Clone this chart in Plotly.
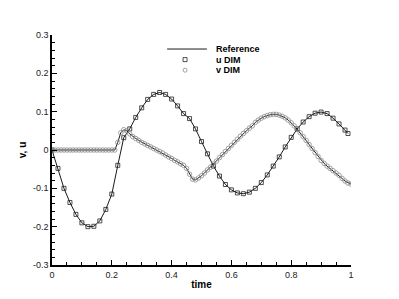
import plotly.graph_objects as go

# ---- data ----
time_u = [0.00, 0.02, 0.04, 0.06, 0.08, 0.10, 0.12, 0.14, 0.16, 0.18,
          0.20, 0.22, 0.24, 0.26, 0.28, 0.30, 0.32, 0.34, 0.36, 0.38,
          0.40, 0.42, 0.44, 0.46, 0.48, 0.50, 0.52, 0.54, 0.56, 0.58,
          0.60, 0.62, 0.64, 0.66, 0.68, 0.70, 0.72, 0.74, 0.76, 0.78,
          0.80, 0.82, 0.84, 0.86, 0.88, 0.90, 0.92, 0.94, 0.96, 0.98, 0.99]
u_dim = [0.000, -0.048, -0.100, -0.137, -0.168, -0.190, -0.200, -0.199, -0.185, -0.155,
         -0.115, -0.040, 0.032, 0.055, 0.085, 0.110, 0.132, 0.145, 0.150, 0.145,
         0.133, 0.115, 0.095, 0.082, 0.055, 0.022, -0.010, -0.042, -0.068, -0.090,
         -0.104, -0.112, -0.114, -0.110, -0.100, -0.085, -0.065, -0.042, -0.018, 0.008,
         0.033, 0.055, 0.073, 0.087, 0.096, 0.099, 0.095, 0.083, 0.068, 0.052, 0.043]

time_v = [0.00, 0.01, 0.02, 0.03, 0.04, 0.05, 0.06, 0.07, 0.08, 0.09,
          0.10, 0.11, 0.12, 0.13, 0.14, 0.15, 0.16, 0.17, 0.18, 0.19,
          0.20, 0.21, 0.22, 0.23, 0.24, 0.25, 0.26, 0.27, 0.28, 0.29,
          0.30, 0.31, 0.32, 0.33, 0.34, 0.35, 0.36, 0.37, 0.38, 0.39,
          0.40, 0.41, 0.42, 0.43, 0.44, 0.45, 0.46, 0.47, 0.48, 0.49,
          0.50, 0.51, 0.52, 0.53, 0.54, 0.55, 0.56, 0.57, 0.58, 0.59,
          0.60, 0.61, 0.62, 0.63, 0.64, 0.65, 0.66, 0.67, 0.68, 0.69,
          0.70, 0.71, 0.72, 0.73, 0.74, 0.75, 0.76, 0.77, 0.78, 0.79,
          0.80, 0.81, 0.82, 0.83, 0.84, 0.85, 0.86, 0.87, 0.88, 0.89,
          0.90, 0.91, 0.92, 0.93, 0.94, 0.95, 0.96, 0.97, 0.98, 0.99, 1.00]
v_dim = [0.000, 0.000, 0.000, 0.000, 0.000, 0.000, 0.000, 0.000, 0.000, 0.000,
         0.000, 0.000, 0.000, 0.000, 0.000, 0.000, 0.000, 0.000, 0.000, 0.000,
         0.000, 0.000, 0.020, 0.045, 0.053, 0.050, 0.042, 0.035, 0.030, 0.025,
         0.020, 0.016, 0.012, 0.008, 0.004, 0.000, -0.004, -0.008, -0.013, -0.018,
         -0.022, -0.027, -0.031, -0.036, -0.040, -0.048, -0.063, -0.076, -0.078, -0.073,
         -0.067, -0.060, -0.052, -0.045, -0.037, -0.029, -0.020, -0.012, -0.004, 0.004,
         0.012, 0.020, 0.028, 0.036, 0.043, 0.050, 0.057, 0.063, 0.072, 0.078,
         0.083, 0.087, 0.090, 0.092, 0.093, 0.093, 0.091, 0.088, 0.084, 0.078,
         0.071, 0.063, 0.054, 0.045, 0.035, 0.025, 0.014, 0.004, -0.007, -0.017,
         -0.027, -0.035, -0.042, -0.048, -0.054, -0.060, -0.066, -0.074, -0.081, -0.086, -0.089]

x_ticks = [0, 0.2, 0.4, 0.6, 0.8, 1.0]
x_tick_labels = ["0", "0.2", "0.4", "0.6", "0.8", "1"]
y_ticks = [-0.3, -0.2, -0.1, 0, 0.1, 0.2, 0.3]
y_tick_labels = ["-0.3", "-0.2", "-0.1", "0", "0.1", "0.2", "0.3"]
legend_labels = ["Reference", "u DIM", "v DIM"]

FONT = "Liberation Sans, Arial, sans-serif"
U_COLOR = "#222222"
V_COLOR = "#8a8a8a"

fig = go.Figure()
fig.add_trace(go.Scatter(x=time_u, y=u_dim, mode="lines", name=legend_labels[0],
                         line=dict(color="black", width=0.9)))
fig.add_trace(go.Scatter(x=time_v, y=v_dim, mode="lines", name=legend_labels[0],
                         line=dict(color="black", width=0.9)))
fig.add_trace(go.Scatter(x=time_u, y=u_dim, mode="markers", name=legend_labels[1],
                         marker=dict(symbol="square-open", size=4, color=U_COLOR,
                                     line=dict(width=0.8))))
fig.add_trace(go.Scatter(x=time_v, y=v_dim, mode="markers", name=legend_labels[2],
                         marker=dict(symbol="circle-open", size=4.5, color=V_COLOR,
                                     line=dict(width=0.8))))

axis_common = dict(showline=True, linecolor="black", linewidth=1.5, mirror=False,
                   showgrid=False, zeroline=False, ticks="inside", ticklen=5,
                   tickwidth=1, tickcolor="black", automargin=False,
                   tickfont=dict(family=FONT, size=9, color="#222222"))

fig.update_xaxes(range=[0, 1], tickvals=x_ticks, ticktext=x_tick_labels,
                 minor=dict(dtick=0.05, ticks="inside", ticklen=3, tickcolor="black"),
                 title=dict(text="<b>time</b>", font=dict(family=FONT, size=10, color="black"),
                            standoff=2),
                 **axis_common)
fig.update_yaxes(range=[-0.3, 0.3], tickvals=y_ticks, ticktext=y_tick_labels,
                 minor=dict(dtick=0.02, ticks="inside", ticklen=3, tickcolor="black"),
                 title=dict(text="<b>v, u</b>", font=dict(family=FONT, size=10, color="black"),
                            standoff=4),
                 **axis_common)

# ---- hand-built legend (Tecplot style, tight rows) ----
leg_x_line0, leg_x_line1, leg_x_sym, leg_x_text = 0.385, 0.518, 0.445, 0.542
leg_rows = [0.939, 0.893, 0.847]
dx, dy = 2.0 / 299, 2.0 / 230
shapes = [
    dict(type="line", xref="paper", yref="paper", x0=leg_x_line0, x1=leg_x_line1,
         y0=leg_rows[0], y1=leg_rows[0], line=dict(color="black", width=0.9)),
    dict(type="rect", xref="paper", yref="paper", x0=leg_x_sym - dx, x1=leg_x_sym + dx,
         y0=leg_rows[1] - dy, y1=leg_rows[1] + dy, line=dict(color=U_COLOR, width=0.8)),
    dict(type="circle", xref="paper", yref="paper", x0=leg_x_sym - dx, x1=leg_x_sym + dx,
         y0=leg_rows[2] - dy, y1=leg_rows[2] + dy, line=dict(color=V_COLOR, width=0.8)),
]
annotations = [
    dict(text="<b>%s</b>" % lab, xref="paper", yref="paper", x=leg_x_text, y=yy,
         xanchor="left", yanchor="middle", showarrow=False,
         font=dict(family=FONT, size=9, color="black"))
    for lab, yy in zip(legend_labels, leg_rows)
]

fig.update_layout(
    width=399, height=299,
    margin=dict(l=52, r=48, t=35, b=34),
    paper_bgcolor="white", plot_bgcolor="white",
    showlegend=False,
    shapes=shapes, annotations=annotations,
)

fig.write_html("out.html", config={"displayModeBar": False},
               post_script="document.body.style.margin='0px';")
